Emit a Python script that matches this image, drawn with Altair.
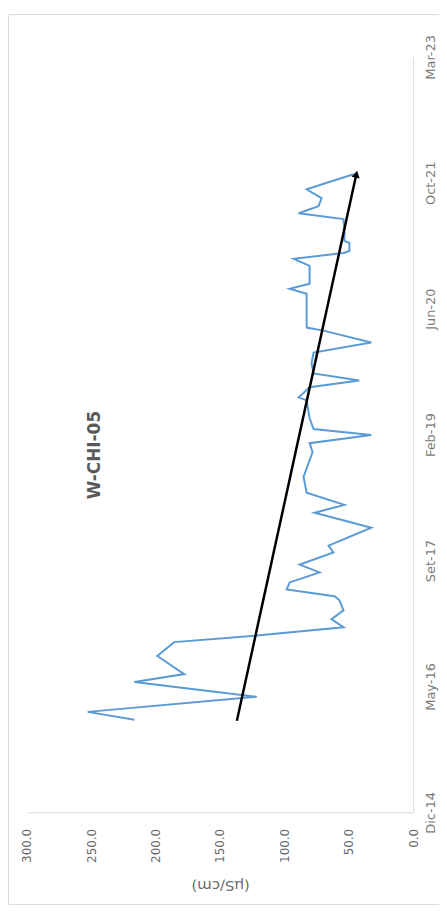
import altair as alt
import pandas as pd

# ---- data ----
DATES = ["2015-12-28","2016-01-28","2016-03-28","2016-05-26","2016-06-26","2016-09-06","2016-10-31",
         "2016-11-24","2016-12-29","2017-01-30","2017-03-06","2017-04-15","2017-05-01","2017-05-28",
         "2017-06-25","2017-08-04","2017-09-04","2017-10-22","2017-11-18","2018-01-28","2018-03-29",
         "2018-04-29","2018-06-16","2018-08-18","2018-11-25","2018-12-30","2019-01-31","2019-02-24",
         "2019-04-08","2019-06-18","2019-06-30","2019-08-09","2019-09-05","2019-10-03","2019-11-12",
         "2019-12-25","2020-02-03","2020-03-21","2020-04-02","2020-05-27","2020-08-14","2020-09-03",
         "2020-09-23","2020-12-03","2020-12-31","2021-01-23","2021-01-31","2021-03-04","2021-03-12",
         "2021-05-02","2021-06-07","2021-06-30","2021-07-28","2021-08-29","2021-10-03","2021-12-02"]
VALUES = [216.5,252.8,121.4,216.5,177.8,198.7,185.6,125.3,54.1,63.4,54.1,57.2,61.1,98.2,95.9,72.7,
          88.1,61.9,65.7,32.5,76.5,53.4,82.7,85.1,78.1,80.4,32.5,77.3,80.4,82.7,88.9,80.4,41.8,77.3,
          78.9,77.3,32.5,69.6,82.7,82.7,82.7,95.9,80.4,80.4,92.8,54.1,49.5,49.5,53.4,53.4,54.1,88.9,
          73.5,71.1,82.7,46.4]
TREND_DATES = ["2015-12-24", "2021-12-02"]
TREND_VALUES = [136.9, 44.1]
TICK_DATES = [(2014, 12, 25), (2016, 5, 8), (2017, 9, 20), (2019, 2, 2), (2020, 6, 16), (2021, 10, 29), (2023, 3, 13)]
VALUE_TICKS = [0, 50, 100, 150, 200, 250, 300]
TITLE = "W-CHI-05"
UNIT = "(µS/cm)"
MONTHS_ES = ["Ene","Feb","Mar","Abr","May","Jun","Jul","Ago","Set","Oct","Nov","Dic"]

series = pd.DataFrame({"i": range(len(DATES)), "date": [d + "T00:00:00" for d in DATES], "value": VALUES})
trend = pd.DataFrame({"i": [0, 1], "date": [d + "T00:00:00" for d in TREND_DATES], "value": TREND_VALUES})
head = trend.iloc[[1]]

FONT = "DejaVu Sans"
tick_dt = [alt.DateTime(year=y, month=m, date=d) for (y, m, d) in TICK_DATES]
months_js = "[" + ",".join("'%s'" % m for m in MONTHS_ES) + "]"

x_enc = alt.X("value:Q",
              scale=alt.Scale(domain=[0, 300], reverse=True, nice=False, zero=False),
              axis=alt.Axis(values=VALUE_TICKS, format=".1f", orient="bottom", grid=False, ticks=False,
                            domainColor="#d9d9d9", labelAngle=270, labelAlign="right", labelBaseline="middle",
                            labelPadding=16, labelColor="#6b6b6b", labelFont=FONT, labelFontSize=12,
                            title=UNIT, titleAngle=180, titleX=194, titleY=73, titleAlign="center",
                            titleBaseline="middle", titleFont=FONT, titleFontSize=15, titleFontWeight="normal",
                            titleColor="#6b6b6b"))
y_enc = alt.Y("date:T",
              scale=alt.Scale(domain=[tick_dt[0], tick_dt[-1]], nice=False),
              axis=alt.Axis(values=tick_dt, orient="right", grid=False, ticks=False, domainColor="#d9d9d9",
                            labelAngle=270, labelAlign="center", labelBaseline="top", labelPadding=11,
                            labelColor="#7a7a7a", labelFont=FONT, labelFontSize=13,
                            labelExpr=months_js + "[month(datum.value)] + '-' + timeFormat(datum.value, '%y')",
                            title=None))

frame = alt.Chart(pd.DataFrame({"a": [0]})).mark_rect(filled=False, stroke="#d9d9d9", strokeWidth=1).encode(
    x=alt.value(-18.5), x2=alt.value(440), y=alt.value(-42.5), y2=alt.value(851.5))

line = alt.Chart(series).mark_line(color="#5b9bd5", strokeWidth=2).encode(x=x_enc, y=y_enc, order="i:Q")
tline = alt.Chart(trend).mark_line(color="black", strokeWidth=2.5).encode(x="value:Q", y="date:T", order="i:Q")
arrow = alt.Chart(head).mark_point(shape="triangle-up", filled=True, color="black", size=70, angle=12,
                                   opacity=1).encode(x="value:Q", y="date:T")
title = alt.Chart(pd.DataFrame({"t": [TITLE]})).mark_text(
    angle=270, font=FONT, fontSize=17, fontWeight="bold", color="#595959", align="center", baseline="middle"
).encode(x=alt.value(68), y=alt.value(400), text="t:N")

chart = alt.layer(frame, line, tline, arrow, title).properties(
    width=388, height=759,
    padding={"left": 19, "top": 47, "right": 26, "bottom": 93},
    autosize=alt.AutoSizeParams(type="none"),
).configure(background="white").configure_view(stroke="transparent", strokeWidth=0)

chart.save("out.html", embed_options={"renderer": "svg", "actions": False})
